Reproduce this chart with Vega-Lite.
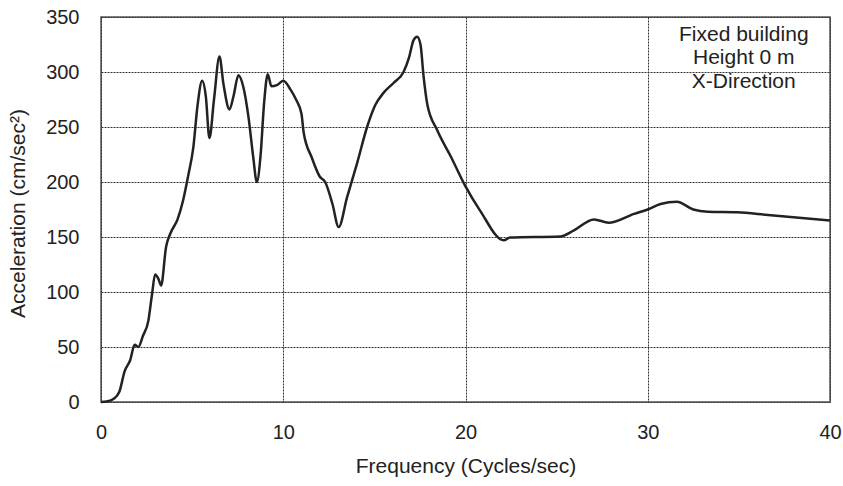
{
  "$schema": "https://vega.github.io/schema/vega-lite/v6.json",
  "width": 729,
  "height": 385,
  "autosize": {"type": "none"},
  "padding": {"left": 101, "top": 17, "right": 13, "bottom": 84},
  "background": "white",
  "config": {
    "view": {"stroke": "#555", "strokeWidth": 1.5},
    "font": "Liberation Sans",
    "axis": {
      "labelFont": "Liberation Sans",
      "titleFont": "Liberation Sans",
      "labelFontSize": 20,
      "titleFontSize": 21,
      "titleFontWeight": "normal",
      "labelColor": "#222",
      "titleColor": "#222",
      "ticks": false,
      "domain": false,
      "labelFlush": false,
      "labelOverlap": false,
      "gridColor": "#333",
      "gridDash": [2, 1],
      "gridWidth": 1,
      "gridOpacity": 1
    }
  },
  "datasets": {
    "curve": [
      {"f": 0, "a": 0}, {"f": 0.3, "a": 0.5}, {"f": 0.7, "a": 3}, {"f": 1.0, "a": 9},
      {"f": 1.3, "a": 28}, {"f": 1.6, "a": 38}, {"f": 1.85, "a": 52}, {"f": 2.05, "a": 50},
      {"f": 2.3, "a": 60}, {"f": 2.6, "a": 74}, {"f": 2.8, "a": 98}, {"f": 2.97, "a": 116},
      {"f": 3.15, "a": 112}, {"f": 3.3, "a": 106}, {"f": 3.57, "a": 141}, {"f": 3.8, "a": 153},
      {"f": 4.2, "a": 166}, {"f": 4.5, "a": 183}, {"f": 4.8, "a": 207}, {"f": 5.07, "a": 232},
      {"f": 5.3, "a": 270}, {"f": 5.55, "a": 292}, {"f": 5.75, "a": 278}, {"f": 5.95, "a": 240},
      {"f": 6.2, "a": 275}, {"f": 6.5, "a": 314}, {"f": 6.72, "a": 289}, {"f": 7.05, "a": 266},
      {"f": 7.27, "a": 278}, {"f": 7.54, "a": 297}, {"f": 7.8, "a": 287}, {"f": 8.1, "a": 258},
      {"f": 8.35, "a": 223}, {"f": 8.55, "a": 200}, {"f": 8.75, "a": 223}, {"f": 8.95, "a": 272},
      {"f": 9.15, "a": 298}, {"f": 9.35, "a": 287}, {"f": 9.65, "a": 288}, {"f": 10.0, "a": 292},
      {"f": 10.4, "a": 284}, {"f": 10.7, "a": 275}, {"f": 11.0, "a": 262}, {"f": 11.12, "a": 245},
      {"f": 11.57, "a": 222}, {"f": 12.0, "a": 205}, {"f": 12.3, "a": 200}, {"f": 12.7, "a": 180},
      {"f": 13.04, "a": 159}, {"f": 13.5, "a": 186}, {"f": 14.05, "a": 217}, {"f": 14.6, "a": 250},
      {"f": 15.05, "a": 270}, {"f": 15.5, "a": 281}, {"f": 16.05, "a": 290}, {"f": 16.6, "a": 300},
      {"f": 16.9, "a": 313}, {"f": 17.15, "a": 329}, {"f": 17.35, "a": 332}, {"f": 17.53, "a": 325},
      {"f": 17.7, "a": 296}, {"f": 17.9, "a": 271}, {"f": 18.45, "a": 247}, {"f": 19.2, "a": 223},
      {"f": 20.0, "a": 196}, {"f": 20.8, "a": 174}, {"f": 22.1, "a": 147}, {"f": 22.45, "a": 149.5},
      {"f": 25.2, "a": 150.5}, {"f": 25.95, "a": 156}, {"f": 27.05, "a": 166}, {"f": 27.85, "a": 163},
      {"f": 29.25, "a": 171}, {"f": 30.0, "a": 175}, {"f": 30.7, "a": 180}, {"f": 31.6, "a": 182},
      {"f": 32.5, "a": 175}, {"f": 33.3, "a": 173}, {"f": 34.9, "a": 172.5}, {"f": 36.6, "a": 170},
      {"f": 40, "a": 165}
    ],
    "notes": [
      {"f": 35.27, "a": 334, "label": "Fixed building"},
      {"f": 35.27, "a": 312.5, "label": "Height 0 m"},
      {"f": 35.27, "a": 290.5, "label": "X-Direction"}
    ]
  },
  "layer": [
    {
      "data": {"name": "curve"},
      "mark": {"type": "line", "interpolate": "monotone", "color": "#222", "strokeWidth": 2.5},
      "encoding": {
        "x": {
          "field": "f", "type": "quantitative",
          "scale": {"domain": [0, 40], "nice": false},
          "axis": {"values": [0, 10, 20, 30, 40], "title": "Frequency (Cycles/sec)", "labelPadding": 20, "titleY": 64, "titleBaseline": "middle"}
        },
        "y": {
          "field": "a", "type": "quantitative",
          "scale": {"domain": [0, 350], "nice": false},
          "axis": {"values": [0, 50, 100, 150, 200, 250, 300, 350], "title": "Acceleration (cm/sec²)", "labelPadding": 22, "titleX": -83, "titleY": 196, "titleBaseline": "middle"}
        }
      }
    },
    {
      "data": {"name": "notes"},
      "mark": {"type": "text", "align": "center", "baseline": "middle", "fontSize": 21, "color": "#222", "font": "Liberation Sans"},
      "encoding": {
        "x": {"field": "f", "type": "quantitative"},
        "y": {"field": "a", "type": "quantitative"},
        "text": {"field": "label"}
      }
    }
  ]
}
